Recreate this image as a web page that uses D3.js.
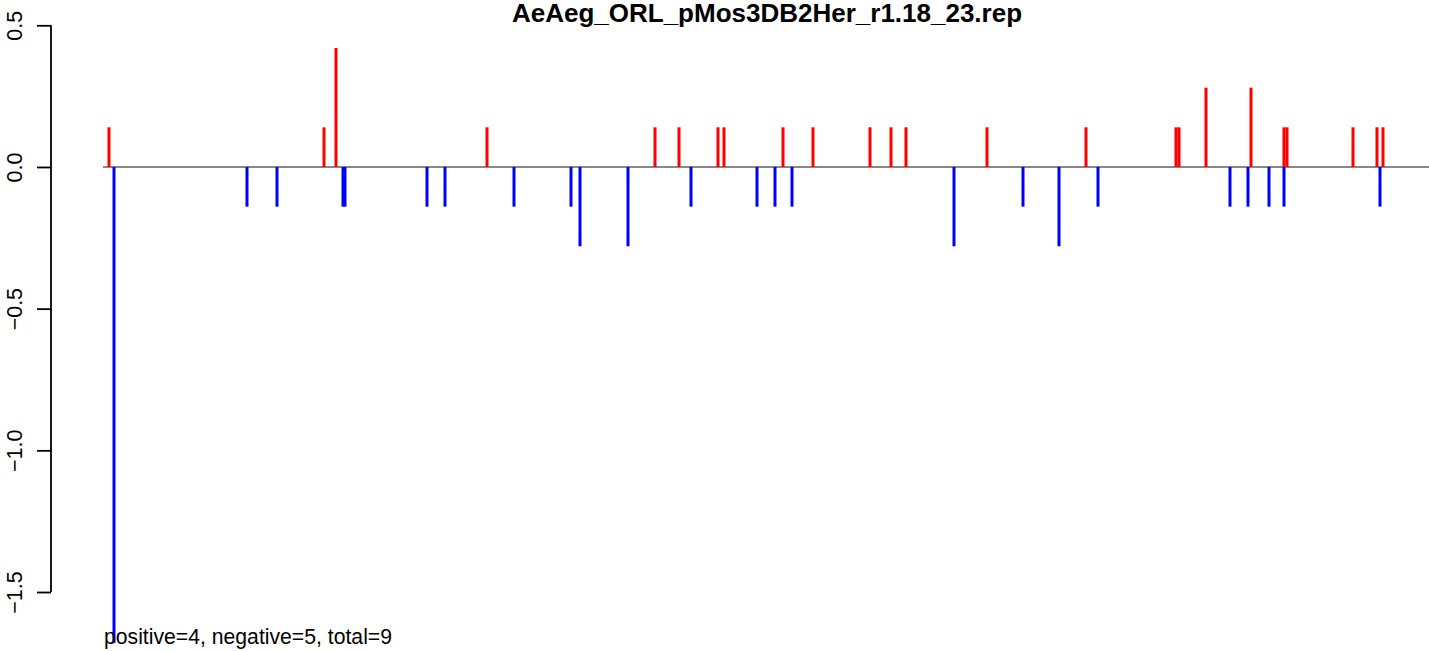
<!DOCTYPE html>
<html>
<head>
<meta charset="utf-8">
<script src="https://cdn.jsdelivr.net/npm/d3@7"></script>
<style>
  html, body { margin: 0; padding: 0; background: #fff; }
  svg { display: block; font-family: "Liberation Sans", Arial, Helvetica, sans-serif; }
</style>
</head>
<body>
<svg id="chart"></svg>
<script>
// positions along the sequence (plot units) and heights of each spike
const posX = [6, 221, 233, 384, 552, 576, 615, 621, 680, 710, 767, 788, 803, 884, 983, 1073, 1076, 1103, 1148, 1181, 1184, 1250, 1274, 1280];
const posY = [0.14, 0.14, 0.42, 0.14, 0.14, 0.14, 0.14, 0.14, 0.14, 0.14, 0.14, 0.14, 0.14, 0.14, 0.14, 0.14, 0.14, 0.28, 0.28, 0.14, 0.14, 0.14, 0.14, 0.14];
const negX = [11, 144, 174, 240, 242, 324, 342, 411, 468, 477, 525, 588, 654, 672, 689, 851, 920, 956, 995, 1127, 1145, 1166, 1181, 1277];
const negY = [-1.68, -0.14, -0.14, -0.14, -0.14, -0.14, -0.14, -0.14, -0.14, -0.28, -0.28, -0.14, -0.14, -0.14, -0.14, -0.28, -0.14, -0.28, -0.14, -0.14, -0.14, -0.14, -0.14, -0.14];
const yTicks = [0.5, 0, -0.5, -1.0, -1.5];
const xExtent = [0, 1326];

const titleText = "AeAeg_ORL_pMos3DB2Her_r1.18_23.rep";
const footText = "positive=4, negative=5, total=9";

const width = 1429, height = 651;

const svg = d3.select("#chart")
    .attr("width", width)
    .attr("height", height);

const x = d3.scaleLinear().domain(xExtent).range([103, 1429]);
const y = d3.scaleLinear().domain([0.5, -1.5]).range([25.3, 592]);

// zero line
svg.append("line")
    .attr("x1", x(xExtent[0])).attr("x2", x(xExtent[1]))
    .attr("y1", y(0)).attr("y2", y(0))
    .attr("stroke", "#888888")
    .attr("stroke-width", 2);

// spikes
function spikes(xs, ys, color) {
    svg.append("g").selectAll("line")
        .data(xs.map((d, i) => [d, ys[i]]))
        .enter()
        .append("line")
        .attr("x1", d => x(d[0])).attr("x2", d => x(d[0]))
        .attr("y1", y(0)).attr("y2", d => y(d[1]))
        .attr("stroke", color)
        .attr("stroke-width", 3);
}
spikes(posX, posY, "#ff0000");
spikes(negX, negY, "#0000ff");

// y axis
const axisX = 51;
const ax = svg.append("g")
    .attr("transform", `translate(${axisX},0)`)
    .call(d3.axisLeft(y).tickValues(yTicks).tickSize(14).tickSizeOuter(0).tickFormat(d3.format(".1f")));
ax.select(".domain").remove();
ax.append("line")
    .attr("y1", y(yTicks[0])).attr("y2", y(yTicks[yTicks.length - 1]))
    .attr("stroke", "#000").attr("stroke-width", 1.8);
ax.selectAll(".tick line").attr("stroke", "#000").attr("stroke-width", 1.8);
ax.selectAll(".tick text")
    .attr("transform", "rotate(-90)")
    .attr("x", 0)
    .attr("y", -29)
    .attr("dy", 0)
    .attr("text-anchor", "middle")
    .attr("font-size", "21.5px")
    .attr("font-family", "Liberation Sans, Arial, sans-serif")
    .attr("fill", "#000");

// title
svg.append("text")
    .attr("x", 767)
    .attr("y", 22)
    .attr("text-anchor", "middle")
    .attr("font-weight", "bold")
    .attr("font-size", "26px")
    .text(titleText);

// footer
svg.append("text")
    .attr("x", 104)
    .attr("y", 644)
    .attr("font-size", "21.2px")
    .text(footText);
</script>
</body>
</html>
